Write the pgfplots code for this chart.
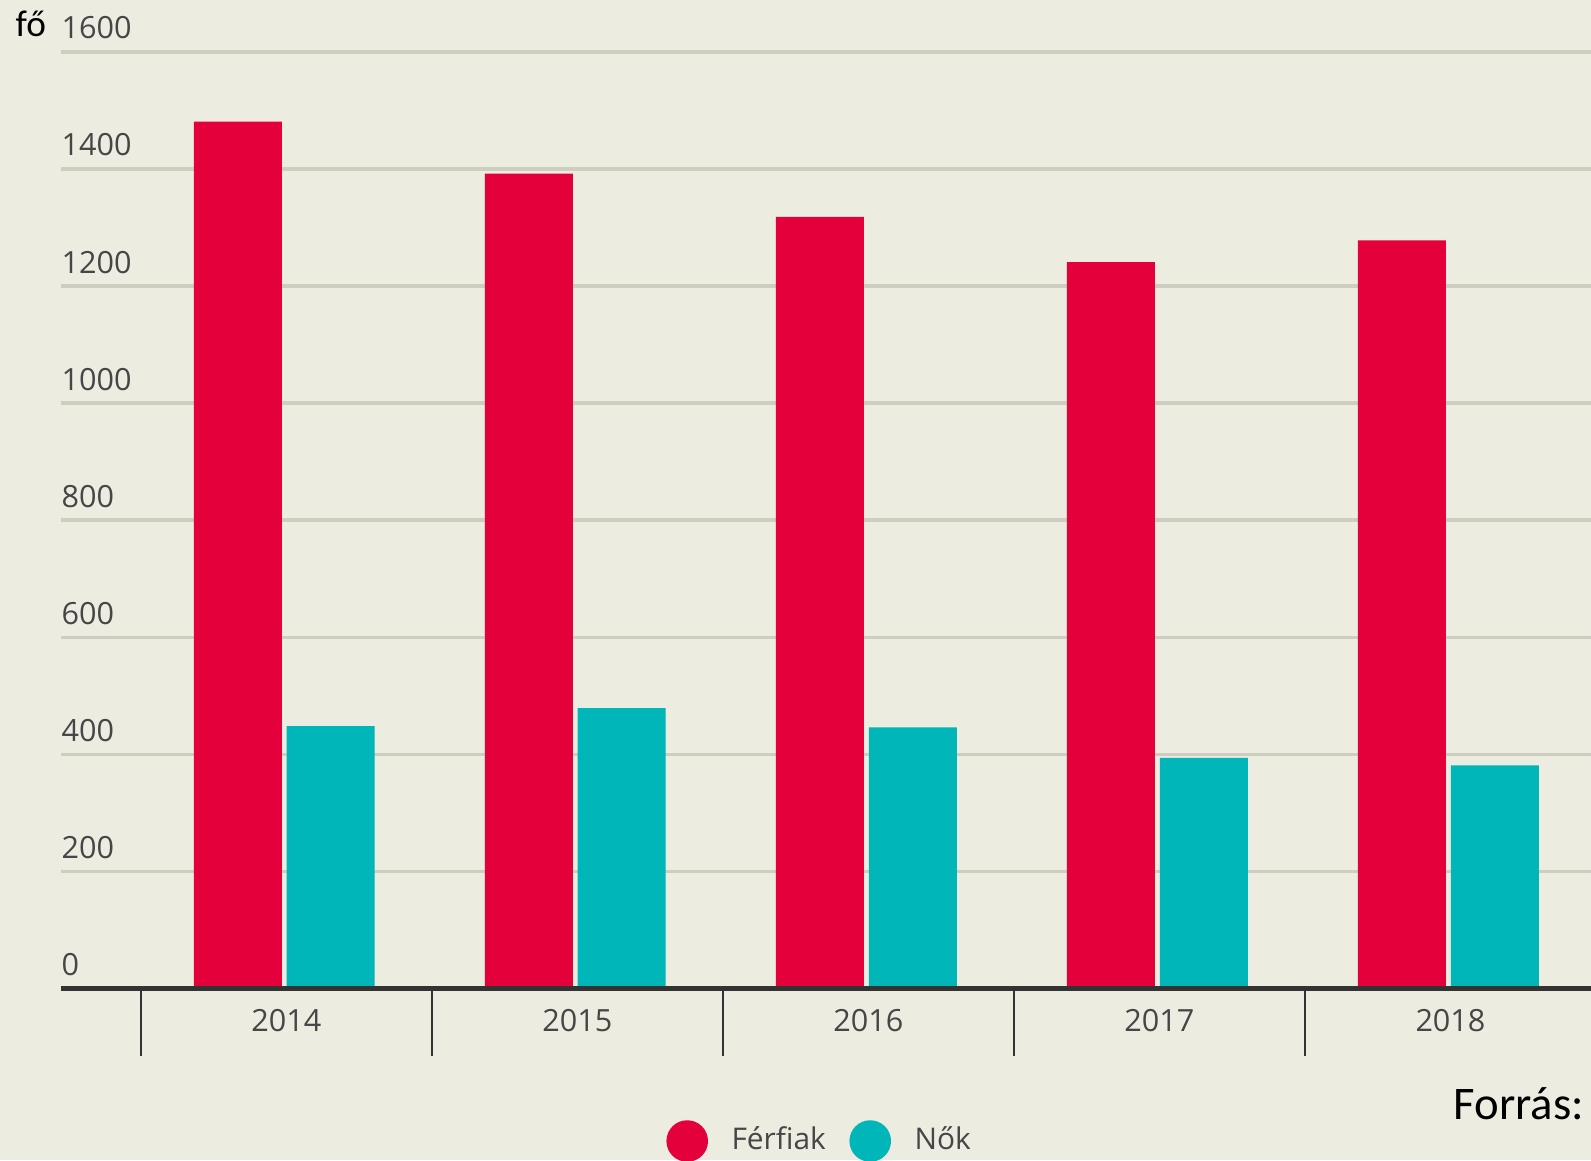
\documentclass[border=0pt]{standalone}
\usepackage{fontspec}
\setmainfont{Open Sans}
\newfontfamily\calibri{Carlito}
\usepackage{pgfplots}
\pgfplotsset{compat=1.18}
\definecolor{bg}{RGB}{237,236,225}
\definecolor{redbar}{RGB}{228,0,58}
\definecolor{tealbar}{RGB}{0,182,184}
\definecolor{gridc}{RGB}{205,205,192}
\definecolor{axisc}{RGB}{51,51,51}
\definecolor{lab}{RGB}{70,70,70}
\begin{document}
\begin{tikzpicture}
\clip (0,0) rectangle (159.1mm,116mm);
\fill[bg] (0,0) rectangle (159.1mm,116mm);
\begin{axis}[
  at={(6.09mm,17.16mm)}, anchor=south west,
  scale only axis, width=153.01mm, height=93.65mm,
  xmin=-0.775, xmax=4.483, ymin=0, ymax=1600,
  axis x line*=bottom, axis y line*=left,
  x axis line style={draw=axisc, line width=0.47mm, -},
  y axis line style={draw=none},
  ytick={0,200,...,1600},
  ymajorgrids, grid style={draw=gridc, line width=0.33mm},
  xtick={0,1,2,3,4}, xticklabels={2014,2015,2016,2017,2018},
  minor xtick={-0.5,0.5,1.5,2.5,3.5},
  tick align=outside,
  major tick length=0pt, minor tick length=6.73mm,
  minor tick style={draw=axisc, line width=0.27mm},
  /pgf/number format/assume math mode=true,
  /pgf/number format/1000 sep={},
  yticklabel style={anchor=south west, inner sep=0pt, yshift=1.2mm, font=\fontsize{8.7pt}{10pt}\selectfont, text=lab},
  xticklabel style={anchor=north, inner sep=0pt, yshift=-2.0mm, font=\fontsize{8.7pt}{10pt}\selectfont, text=lab},
  legend columns=2,
  legend style={draw=none, fill=none, at={(0.4975,-0.163)}, anchor=center,
    font=\fontsize{8.5pt}{10pt}\selectfont, text=lab,
    column sep=1.65mm, inner sep=0pt},
]
\addplot[ybar, bar width=8.8mm, bar shift=-4.85mm, fill=redbar, draw=none,
  legend image code/.code={\fill (2.08mm,0mm) circle (2.08mm);}]
  coordinates {(0,1481) (1,1392) (2,1318) (3,1241) (4,1278)};
\addplot[ybar, bar width=8.8mm, bar shift=4.43mm, fill=tealbar, draw=none,
  legend image code/.code={\fill (2.08mm,0mm) circle (2.08mm);}]
  coordinates {(0,448) (1,479) (2,446) (3,394) (4,381)};
\addplot[axisc, line width=0.47mm, forget plot] coordinates {(-0.775,0) (4.483,0)};
\legend{Férfiak, Nők}
\end{axis}
\node[anchor=base west, inner sep=0pt, font=\calibri\fontsize{10.6pt}{12pt}\selectfont] at (1.5mm,112.3mm) {fő};
\node[anchor=base west, inner sep=0pt, font=\calibri\fontsize{13.3pt}{15pt}\selectfont] at (145.3mm,4.07mm) {Forrás:};
\end{tikzpicture}
\end{document}
